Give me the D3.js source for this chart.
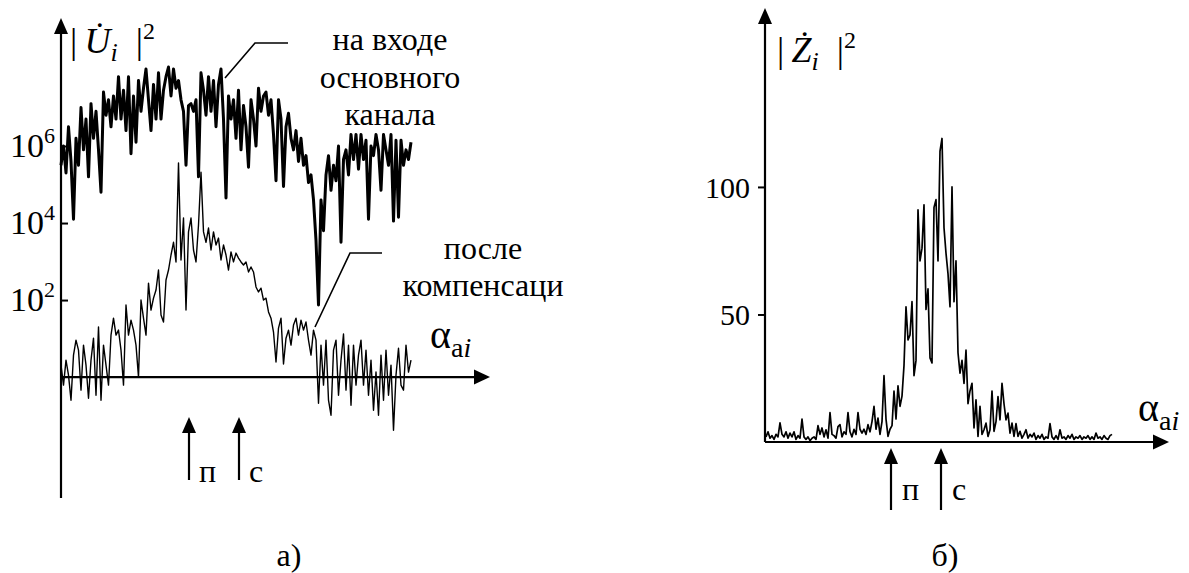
<!doctype html>
<html>
<head>
<meta charset="utf-8">
<style>
    body {
        margin: 0;
        background: #fff;
    }

    svg {
        display: block;
    }

    text {
        font-family: 'Liberation Serif', 'Times New Roman', 'DejaVu Serif', serif;
        fill: #000;
    }

    .axis-line {
        stroke: #000;
        stroke-width: 2.2;
    }

    .arrow-head {
        fill: #000;
    }

    .tick line {
        stroke: #000;
        stroke-width: 2;
    }

    path.thick {
        fill: none;
        stroke: #000;
        stroke-width: 3;
        stroke-linejoin: round;
    }

    path.thin {
        fill: none;
        stroke: #000;
        stroke-width: 1.4;
        stroke-linejoin: round;
    }

    path.zline {
        fill: none;
        stroke: #000;
        stroke-width: 1.7;
        stroke-linejoin: round;
    }

    polyline.leader {
        fill: none;
        stroke: #000;
        stroke-width: 1.6;
    }

    text.label {
        font-size: 32px;
    }

    text.tick-label {
        font-size: 34px;
    }

    text.tick-label-r {
        font-size: 30px;
    }
</style>
<script src="https://d3js.org/d3.v7.min.js"></script>
</head>
<body>
<svg width="1189" height="573"></svg>
<script>
    // а) lg|U|^2 на входе основного канала
    const inputLg = [
        5.5, 6.0, 5.3, 6.5, 5.6, 4.1, 6.2, 5.5, 7.0, 5.9,
        6.7, 5.2, 7.1, 6.2, 6.9, 5.9, 4.8, 7.4, 6.8, 7.2,
        6.5, 7.3, 6.7, 7.8, 6.7, 7.45, 6.4, 7.8, 5.8, 7.3,
        6.1, 7.7, 6.9, 7.5, 8.0, 7.2, 6.4, 7.6, 6.7, 7.9,
        6.7, 7.45, 7.8, 8.05, 7.3, 8.0, 7.5, 7.7, 7.2, 6.9,
        5.5, 7.05, 7.1, 6.9, 7.2, 5.2, 7.9, 7.45, 6.8, 7.8,
        6.9, 7.7, 6.5, 7.6, 8.0, 6.7, 4.65, 7.3, 6.7, 7.2,
        6.2, 7.45, 5.9, 7.05, 6.5, 5.45, 7.2, 6.7, 6.0, 7.5,
        6.9, 7.3, 7.4, 6.8, 7.2, 6.3, 5.1, 7.2, 6.7, 4.95,
        6.5, 6.85, 6.2, 5.9, 6.4, 5.6, 6.2, 5.5, 5.75, 5.05,
        5.25, 4.6, 3.55, 1.87, 4.6, 3.8, 5.25, 5.75, 4.85, 5.5,
        5.1, 6.0, 3.5, 5.65, 5.9, 5.25, 6.3, 5.65, 6.3, 5.4,
        6.3, 5.65, 6.15, 4.1, 6.0, 5.75, 6.3, 5.9, 4.85, 6.3,
        5.9, 5.5, 6.3, 4.05, 6.15, 4.15, 6.15, 5.5, 5.9, 5.65,
        6.1
    ];

    // а) lg|U|^2 после компенсации
    const compLg = [
        0.31, -0.21, 0.44, 0.05, -0.6, 0.57, 0.96, 0.7, -0.34, 0.83,
        0.31, -0.55, 0.44, 1.01, -0.47, 1.3, -0.6, 0.83, 0.31, -0.21,
        1.09, 1.53, 1.09, 1.22, 0.7, -0.21, 1.87, 1.09, 1.48, 1.22,
        0.83, 0.0, 2.0, 1.53, 1.09, 2.44, 1.74, 2.05, 2.26, 2.78,
        1.61, 1.43, 2.52, 2.78, 3.17, 3.5, 2.99, 5.56, 3.04, 4.13,
        1.74, 3.77, 4.13, 3.3, 2.99, 3.95, 5.32, 3.77, 3.5, 3.87,
        3.3, 3.77, 3.43, 3.61, 3.04, 3.43, 3.17, 2.78, 3.25, 2.99,
        3.22, 3.09, 2.99, 2.91, 2.99, 2.73, 2.86, 2.73, 2.34, 2.21,
        2.31, 2.0, 2.05, 1.69, 1.53, 1.17, 0.39, 1.27, 1.53, 0.34,
        1.01, 1.22, 0.83, 1.35, 1.53, 1.09, 1.48, 1.22, 1.43, 0.96,
        0.57, 1.22, 0.96, -0.68, 0.83, -0.21, 0.96, -0.6, -0.99, 0.7,
        0.96, -0.47, 0.44, 1.12, -0.34, 0.83, -0.73, 0.83, -0.21, 0.57,
        0.96, -0.21, 0.7, -0.47, 0.44, -0.86, 0.13, -0.99, 0.57, -0.6,
        0.7, -0.47, 0.31, -1.38, 0.05, 0.75, -0.21, -0.34, 0.83, 0.13,
        0.44
    ];

    // б) |Z|^2
    const zValues = [
        2, 4, 1.5, 2.5, 1, 3, 2, 7.5, 3, 2,
        4, 1.5, 3.5, 2, 4, 1, 2.5, 1.5, 9, 2,
        1, 2, 0.5, 1.5, 2, 1, 6.4, 3, 5.5, 2,
        4.8, 1.5, 11.5, 3, 2.5, 1.5, 6, 6.8, 2, 4,
        3, 11.5, 4, 2, 5, 3, 11.5, 5, 3.5, 5,
        3, 6.8, 4, 8, 14, 5, 9.4, 3, 8, 26,
        9, 2.2, 5, 6.4, 20, 9, 22, 14, 18, 30,
        53, 40, 42, 55, 26, 32, 91, 71, 76, 93,
        52, 60, 33, 31, 92, 95, 71, 114, 119, 84,
        74, 66, 53, 100, 55, 71, 35, 27, 32, 23,
        36, 15, 20, 23, 5.5, 16.5, 2.2, 14, 3, 4.8,
        7.4, 2.2, 4.8, 20, 4.2, 8, 17.8, 8.7, 23, 15,
        8.7, 11.3, 3.5, 7.4, 2.2, 7.2, 2.2, 4.2, 1.5, 3,
        4.8, 1.5, 3, 2, 3.5, 1, 2.5, 1.5, 3, 1,
        2, 1.5, 7.2, 2, 1, 2.5, 1, 4.8, 1.5, 2,
        1, 2.5, 1.5, 3, 1, 2, 1.5, 2.5, 1, 2,
        1.5, 2.5, 1, 2, 1, 3.5, 1.5, 2, 1, 2.5,
        1.5, 1, 2.5, 3
    ];

    const leftTicks = [2, 4, 6];          // показатели степени 10^k
    const rightTicks = [50, 100];
    const markerNames = ['п', 'с'];
    const leftMarkerAt = [51.2, 71.2];    // положение стрелок по оси α (индекс отсчёта)
    const rightMarkerAt = [62.5, 87.5];

    const svg = d3.select('svg');

    const arrowUp = (x, tip) => `M${x},${tip} L${x - 7},${tip + 16} L${x + 7},${tip + 16} Z`;
    const arrowRight = (tip, y) => `M${tip},${y} L${tip - 16},${y - 7.5} L${tip - 16},${y + 7.5} Z`;

    // ---------- а) ----------
    const xL = d3.scaleLinear().domain([0, inputLg.length - 1]).range([61, 411]);
    const yL = d3.scaleLog().domain([Math.pow(10, -3.14), 1e8]).range([498, 69]);

    const left = svg.append('g');

    const lineL = d3.line()
        .x((d, i) => xL(i))
        .y(d => yL(Math.pow(10, d)));

    left.append('path').datum(compLg).attr('class', 'thin').attr('d', lineL);
    left.append('path').datum(inputLg).attr('class', 'thick').attr('d', lineL);

    const x0L = xL(0);
    const axisYL = yL(1);

    left.append('line').attr('class', 'axis-line')
        .attr('x1', x0L).attr('x2', x0L)
        .attr('y1', yL.range()[0]).attr('y2', 30);
    left.append('path').attr('class', 'arrow-head').attr('d', arrowUp(x0L, 18));

    left.append('line').attr('class', 'axis-line')
        .attr('x1', x0L).attr('x2', 476)
        .attr('y1', axisYL).attr('y2', axisYL);
    left.append('path').attr('class', 'arrow-head').attr('d', arrowRight(490, axisYL));

    const tickAxisL = left.append('g')
        .attr('transform', `translate(${x0L},0)`)
        .call(d3.axisRight(yL)
            .tickValues(leftTicks.map(k => Math.pow(10, k)))
            .tickSize(7)
            .tickFormat(''));
    tickAxisL.select('.domain').remove();

    leftTicks.forEach(k => {
        const t = left.append('text')
            .attr('class', 'tick-label')
            .attr('x', 10)
            .attr('y', yL(Math.pow(10, k)) + 11);
        t.append('tspan').text('10');
        t.append('tspan').attr('dy', -14).style('font-size', '22px').text(k);
    });

    // подпись оси |U_i|^2 (точка над буквой — комбинирующий знак)
    const uLabel = left.append('text').attr('x', 70).attr('y', 53).style('font-size', '36px');
    uLabel.append('tspan').text('|\u2009');
    uLabel.append('tspan').style('font-style', 'italic').text('U\u0307');
    uLabel.append('tspan').attr('dy', 8).style('font-size', '26px').style('font-style', 'italic').text('i');
    uLabel.append('tspan').attr('dy', -8).text('\u2002|');
    uLabel.append('tspan').attr('dy', -14).style('font-size', '24px').text('2');

    // α_ai
    const alphaL = left.append('text').attr('x', 430).attr('y', 348).style('font-size', '40px');
    alphaL.append('tspan').text('α');
    alphaL.append('tspan').attr('dy', 9).style('font-size', '28px').text('a');
    alphaL.append('tspan').style('font-size', '28px').style('font-style', 'italic').text('i');

    // подписи кривых
    left.append('polyline').attr('class', 'leader').attr('points', '288,43 255,43 225,78');
    ['на входе', 'основного', 'канала'].forEach((s, i) => {
        left.append('text').attr('class', 'label')
            .attr('x', 390).attr('y', 50 + i * 37.5)
            .attr('text-anchor', 'middle').text(s);
    });

    left.append('polyline').attr('class', 'leader').attr('points', '382,253 350,253 315,327');
    ['после', 'компенсаци'].forEach((s, i) => {
        left.append('text').attr('class', 'label')
            .attr('x', 483).attr('y', 259 + i * 37)
            .attr('text-anchor', 'middle').text(s);
    });

    // стрелки п, с
    leftMarkerAt.forEach((m, i) => {
        const x = xL(m);
        left.append('path').attr('class', 'arrow-head').attr('d', arrowUp(x, 417));
        left.append('line').attr('class', 'axis-line')
            .attr('x1', x).attr('x2', x).attr('y1', 430).attr('y2', 480);
        left.append('text').attr('class', 'label')
            .attr('x', x + 10).attr('y', 482).text(markerNames[i]);
    });

    left.append('text').attr('class', 'label')
        .attr('x', 289).attr('y', 566).attr('text-anchor', 'middle').text('а)');

    // ---------- б) ----------
    const xR = d3.scaleLinear().domain([0, zValues.length - 1]).range([766, 1112]);
    const yR = d3.scaleLinear().domain([0, 170]).range([442, 8.4]);

    const right = svg.append('g');

    const lineR = d3.line()
        .x((d, i) => xR(i))
        .y(d => yR(d));

    right.append('path').datum(zValues).attr('class', 'zline').attr('d', lineR);

    const x0R = 765;
    const axisYR = yR(0);

    right.append('line').attr('class', 'axis-line')
        .attr('x1', x0R).attr('x2', x0R)
        .attr('y1', axisYR).attr('y2', 20);
    right.append('path').attr('class', 'arrow-head').attr('d', arrowUp(x0R, 8));

    right.append('line').attr('class', 'axis-line')
        .attr('x1', x0R).attr('x2', 1155)
        .attr('y1', axisYR).attr('y2', axisYR);
    right.append('path').attr('class', 'arrow-head').attr('d', arrowRight(1169, axisYR));

    const tickAxisR = right.append('g')
        .attr('transform', `translate(${x0R},0)`)
        .call(d3.axisLeft(yR)
            .tickValues(rightTicks)
            .tickSize(7)
            .tickFormat(''));
    tickAxisR.select('.domain').remove();

    rightTicks.forEach(v => {
        right.append('text')
            .attr('class', 'tick-label-r')
            .attr('x', 750)
            .attr('y', yR(v) + 11)
            .attr('text-anchor', 'end')
            .text(v);
    });

    // подпись оси |Z_i|^2
    const zLabel = right.append('text').attr('x', 777).attr('y', 62).style('font-size', '36px');
    zLabel.append('tspan').text('|\u2009');
    zLabel.append('tspan').style('font-style', 'italic').text('Z\u0307');
    zLabel.append('tspan').attr('dy', 8).style('font-size', '26px').style('font-style', 'italic').text('i');
    zLabel.append('tspan').attr('dy', -8).text('\u2002|');
    zLabel.append('tspan').attr('dy', -14).style('font-size', '24px').text('2');

    const alphaR = right.append('text').attr('x', 1138).attr('y', 421).style('font-size', '40px');
    alphaR.append('tspan').text('α');
    alphaR.append('tspan').attr('dy', 9).style('font-size', '28px').text('a');
    alphaR.append('tspan').style('font-size', '28px').style('font-style', 'italic').text('i');

    rightMarkerAt.forEach((m, i) => {
        const x = xR(m);
        right.append('path').attr('class', 'arrow-head').attr('d', arrowUp(x, 448));
        right.append('line').attr('class', 'axis-line')
            .attr('x1', x).attr('x2', x).attr('y1', 460).attr('y2', 510);
        right.append('text').attr('class', 'label')
            .attr('x', x + 11).attr('y', 500).text(markerNames[i]);
    });

    right.append('text').attr('class', 'label')
        .attr('x', 945).attr('y', 566).attr('text-anchor', 'middle').text('б)');
</script>
</body>
</html>
